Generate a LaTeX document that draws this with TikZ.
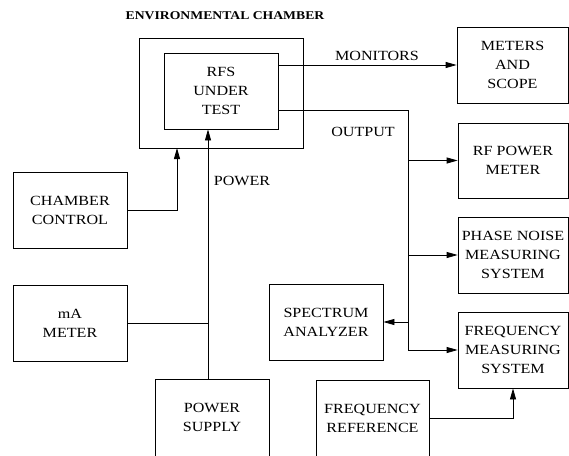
\documentclass[tikz,border=0pt]{standalone}
\usepackage{fontspec}
\setmainfont{Liberation Serif}[FakeStretch=1.15]
\usetikzlibrary{arrows.meta}
\begin{document}
\begin{tikzpicture}[x=1pt,y=-1pt,
  box/.style={draw, line width=0.8pt, align=center, inner sep=0pt},
  lbl/.style={font=\fontsize{14}{19}\selectfont, align=center},
  conn/.style={line width=0.8pt},
  arr/.style={line width=0.8pt, -{Triangle[length=11pt,width=6pt]}}]
\useasboundingbox (0,0) rectangle (569,455);
\clip (0,0) rectangle (569,455);
% boxes
\draw[box] (139,38) rectangle (303,148);
\node[box, minimum width=114pt, minimum height=76pt, lbl] (rfs) at (221,91) {RFS\\UNDER\\TEST};
\node[box, minimum width=111pt, minimum height=76pt, lbl] (meters) at (512.5,65) {METERS\\AND\\SCOPE};
\node[box, minimum width=110pt, minimum height=75pt, lbl] (rfpm) at (513,160.5) {RF POWER\\METER};
\node[box, minimum width=110pt, minimum height=76pt, lbl] (phase) at (513,255) {PHASE NOISE\\MEASURING\\SYSTEM};
\node[box, minimum width=110pt, minimum height=76pt, lbl] (freqm) at (513,350) {FREQUENCY\\MEASURING\\SYSTEM};
\node[box, minimum width=114pt, minimum height=76pt, lbl] (spec) at (326,322) {SPECTRUM\\ANALYZER};
\node[box, minimum width=114pt, minimum height=76pt, lbl] (cc) at (70,210) {CHAMBER\\CONTROL};
\node[box, minimum width=114pt, minimum height=76pt, lbl] (ma) at (70,323) {mA\\METER};
\node[box, minimum width=114pt, minimum height=77pt, lbl] (ps) at (212,417.5) {POWER\\SUPPLY};
\node[box, minimum width=113pt, minimum height=76pt, lbl] (fr) at (372.5,418) {FREQUENCY\\REFERENCE};
% labels
\node[font=\bfseries\fontsize{11.9}{14}\selectfont] (title) at (225,16) {ENVIRONMENTAL CHAMBER};
\node[lbl] (monl) at (377,56) {MONITORS};
\node[lbl] (outl) at (363,132) {OUTPUT};
\node[lbl] (pwrl) at (242,181) {POWER};
% coordinates
\coordinate (outstart) at (278,110);
\coordinate (busTop) at (408,110);
\coordinate (chbot) at (177,148);
\coordinate (pwrx) at (208,0);
% connectors
\draw[arr] (meters.west -| rfs.east) -- (meters.west);
\draw[arr] (outstart) -- (busTop) -- (busTop |- freqm.west) -- (freqm.west);
\draw[arr] (busTop |- rfpm.west) -- (rfpm.west);
\draw[arr] (busTop |- phase.west) -- (phase.west);
\draw[arr] (busTop |- spec.east) -- (spec.east);
\draw[arr] (cc.east) -| (chbot);
\draw[arr] (pwrx |- ps.north) -- (pwrx |- rfs.south);
\draw[conn] (ma.east) -- (pwrx |- ma.east);
\draw[arr] (fr.east) -| (freqm.south);
\end{tikzpicture}
\end{document}
